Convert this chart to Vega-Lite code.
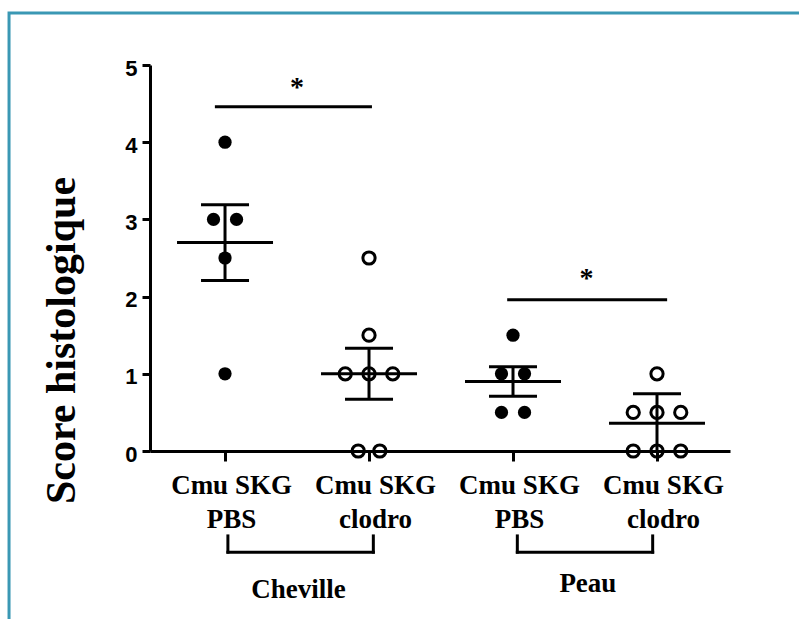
{
  "$schema": "https://vega.github.io/schema/vega-lite/v6.json",
  "autosize": {"type": "none"},
  "width": 580,
  "height": 386,
  "padding": {"left": 150, "top": 65, "right": 69, "bottom": 168},
  "background": "white",
  "config": {"view": {"stroke": null}, "font": "Liberation Serif"},
  "datasets": {
    "points": [
      {"groupe": "Cheville", "traitement": "PBS", "pos": 1.0, "score": 4},
      {"groupe": "Cheville", "traitement": "PBS", "pos": 0.92, "score": 3},
      {"groupe": "Cheville", "traitement": "PBS", "pos": 1.08, "score": 3},
      {"groupe": "Cheville", "traitement": "PBS", "pos": 1.0, "score": 2.5},
      {"groupe": "Cheville", "traitement": "PBS", "pos": 1.0, "score": 1},
      {"groupe": "Cheville", "traitement": "clodro", "pos": 2.0, "score": 2.5},
      {"groupe": "Cheville", "traitement": "clodro", "pos": 2.0, "score": 1.5},
      {"groupe": "Cheville", "traitement": "clodro", "pos": 1.835, "score": 1},
      {"groupe": "Cheville", "traitement": "clodro", "pos": 2.0, "score": 1},
      {"groupe": "Cheville", "traitement": "clodro", "pos": 2.165, "score": 1},
      {"groupe": "Cheville", "traitement": "clodro", "pos": 1.925, "score": 0},
      {"groupe": "Cheville", "traitement": "clodro", "pos": 2.075, "score": 0},
      {"groupe": "Peau", "traitement": "PBS", "pos": 3.0, "score": 1.5},
      {"groupe": "Peau", "traitement": "PBS", "pos": 2.92, "score": 1},
      {"groupe": "Peau", "traitement": "PBS", "pos": 3.08, "score": 1},
      {"groupe": "Peau", "traitement": "PBS", "pos": 2.92, "score": 0.5},
      {"groupe": "Peau", "traitement": "PBS", "pos": 3.08, "score": 0.5},
      {"groupe": "Peau", "traitement": "clodro", "pos": 4.0, "score": 1},
      {"groupe": "Peau", "traitement": "clodro", "pos": 3.835, "score": 0.5},
      {"groupe": "Peau", "traitement": "clodro", "pos": 4.0, "score": 0.5},
      {"groupe": "Peau", "traitement": "clodro", "pos": 4.165, "score": 0.5},
      {"groupe": "Peau", "traitement": "clodro", "pos": 3.835, "score": 0},
      {"groupe": "Peau", "traitement": "clodro", "pos": 4.0, "score": 0},
      {"groupe": "Peau", "traitement": "clodro", "pos": 4.165, "score": 0}
    ],
    "summary": [
      {"groupe": "Cheville", "traitement": "PBS", "pos": 1, "moyenne": 2.7, "bas": 2.21, "haut": 3.19},
      {"groupe": "Cheville", "traitement": "clodro", "pos": 2, "moyenne": 1.0, "bas": 0.67, "haut": 1.33},
      {"groupe": "Peau", "traitement": "PBS", "pos": 3, "moyenne": 0.9, "bas": 0.71, "haut": 1.09},
      {"groupe": "Peau", "traitement": "clodro", "pos": 4, "moyenne": 0.36, "bas": 0.0, "haut": 0.74}
    ],
    "segments": [
      {"x1": 0.94, "x2": 2.01, "y1": 4.46, "y2": 4.46},
      {"x1": 2.97, "x2": 4.06, "y1": 1.96, "y2": 1.96},
      {"x1": 1.02, "x2": 1.02, "y1": -1.1, "y2": -1.31},
      {"x1": 1.02, "x2": 2.03, "y1": -1.31, "y2": -1.31},
      {"x1": 2.03, "x2": 2.03, "y1": -1.1, "y2": -1.31},
      {"x1": 3.03, "x2": 3.03, "y1": -1.1, "y2": -1.31},
      {"x1": 3.03, "x2": 3.97, "y1": -1.31, "y2": -1.31},
      {"x1": 3.97, "x2": 3.97, "y1": -1.1, "y2": -1.31}
    ],
    "stars": [
      {"x": 1.5, "y": 4.6, "t": "*"},
      {"x": 3.51, "y": 2.12, "t": "*"}
    ],
    "groupes": [
      {"x": 1.51, "y": -1.9, "t": "Cheville"},
      {"x": 3.52, "y": -1.83, "t": "Peau"}
    ],
    "cadre": [
      {"x1": -0.5, "x2": 5.2, "y1": 5.674, "y2": -2.6}
    ]
  },
  "layer": [
    {
      "data": {"name": "cadre"},
      "mark": {"type": "rect", "fill": null, "stroke": "#3a98b4", "strokeWidth": 3},
      "encoding": {
        "x": {"field": "x1", "type": "quantitative", "scale": {"domain": [0.479, 4.507]}},
        "x2": {"field": "x2"},
        "y": {"field": "y1", "type": "quantitative", "scale": {"domain": [0, 5]}},
        "y2": {"field": "y2"}
      }
    },
    {
      "data": {"name": "points"},
      "transform": [{"filter": "datum.traitement == 'PBS'"}],
      "mark": {"type": "point", "shape": "circle", "filled": true, "color": "black", "size": 175, "opacity": 1},
      "encoding": {
        "x": {
          "field": "pos", "type": "quantitative",
          "scale": {"domain": [0.479, 4.507], "nice": false, "zero": false},
          "axis": {
            "title": null, "values": [1, 2, 3, 4], "grid": false,
            "domainColor": "black", "domainWidth": 3, "tickColor": "black", "tickWidth": 3, "tickSize": 10,
            "labelExpr": "datum.value == 1 || datum.value == 3 ? ['Cmu SKG', 'PBS'] : ['Cmu SKG', 'clodro']",
            "labelFont": "Liberation Serif", "labelFontWeight": "bold", "labelFontSize": 27, "labelColor": "black",
            "labelBaseline": "alphabetic", "labelPadding": 32, "labelLineHeight": 34.5, "labelOffset": 6,
            "labelOverlap": false, "labelFlush": false
          }
        },
        "y": {
          "field": "score", "type": "quantitative",
          "scale": {"domain": [0, 5], "nice": false, "zero": false},
          "axis": {
            "title": "Score histologique", "values": [0, 1, 2, 3, 4, 5], "format": "d", "grid": false,
            "domainColor": "black", "domainWidth": 3, "tickColor": "black", "tickWidth": 3, "tickSize": 8,
            "labelFont": "Liberation Sans", "labelFontWeight": "bold", "labelFontSize": 22, "labelColor": "black",
            "labelPadding": 5, "labelOffset": 3,
            "titleFont": "Liberation Serif", "titleFontWeight": "bold", "titleFontSize": 42, "titleColor": "black",
            "titleAngle": -90, "titleAlign": "center", "titleBaseline": "alphabetic", "titleX": -76, "titleY": 275
          }
        }
      }
    },
    {
      "data": {"name": "points"},
      "transform": [{"filter": "datum.traitement == 'clodro'"}],
      "mark": {"type": "point", "shape": "circle", "filled": false, "color": "black", "strokeWidth": 3, "size": 150, "opacity": 1},
      "encoding": {
        "x": {"field": "pos", "type": "quantitative"},
        "y": {"field": "score", "type": "quantitative"}
      }
    },
    {
      "data": {"name": "summary"},
      "mark": {"type": "rule", "color": "black", "strokeWidth": 3},
      "encoding": {
        "x": {"field": "pos", "type": "quantitative"},
        "y": {"field": "bas", "type": "quantitative"},
        "y2": {"field": "haut"}
      }
    },
    {
      "data": {"name": "summary"},
      "mark": {"type": "tick", "orient": "horizontal", "color": "black", "thickness": 3, "size": 96, "opacity": 1},
      "encoding": {
        "x": {"field": "pos", "type": "quantitative"},
        "y": {"field": "moyenne", "type": "quantitative"}
      }
    },
    {
      "data": {"name": "summary"},
      "mark": {"type": "tick", "orient": "horizontal", "color": "black", "thickness": 3, "size": 48, "opacity": 1},
      "encoding": {
        "x": {"field": "pos", "type": "quantitative"},
        "y": {"field": "haut", "type": "quantitative"}
      }
    },
    {
      "data": {"name": "summary"},
      "transform": [{"filter": "datum.bas > 0"}],
      "mark": {"type": "tick", "orient": "horizontal", "color": "black", "thickness": 3, "size": 48, "opacity": 1},
      "encoding": {
        "x": {"field": "pos", "type": "quantitative"},
        "y": {"field": "bas", "type": "quantitative"}
      }
    },
    {
      "data": {"name": "segments"},
      "mark": {"type": "rule", "color": "black", "strokeWidth": 3, "strokeCap": "square"},
      "encoding": {
        "x": {"field": "x1", "type": "quantitative"},
        "x2": {"field": "x2"},
        "y": {"field": "y1", "type": "quantitative"},
        "y2": {"field": "y2"}
      }
    },
    {
      "data": {"name": "stars"},
      "mark": {"type": "text", "font": "Liberation Serif", "fontWeight": "bold", "fontSize": 28, "baseline": "alphabetic", "align": "center", "color": "black"},
      "encoding": {
        "x": {"field": "x", "type": "quantitative"},
        "y": {"field": "y", "type": "quantitative"},
        "text": {"field": "t"}
      }
    },
    {
      "data": {"name": "groupes"},
      "mark": {"type": "text", "font": "Liberation Serif", "fontWeight": "bold", "fontSize": 27, "baseline": "alphabetic", "align": "center", "color": "black"},
      "encoding": {
        "x": {"field": "x", "type": "quantitative"},
        "y": {"field": "y", "type": "quantitative"},
        "text": {"field": "t"}
      }
    }
  ]
}
